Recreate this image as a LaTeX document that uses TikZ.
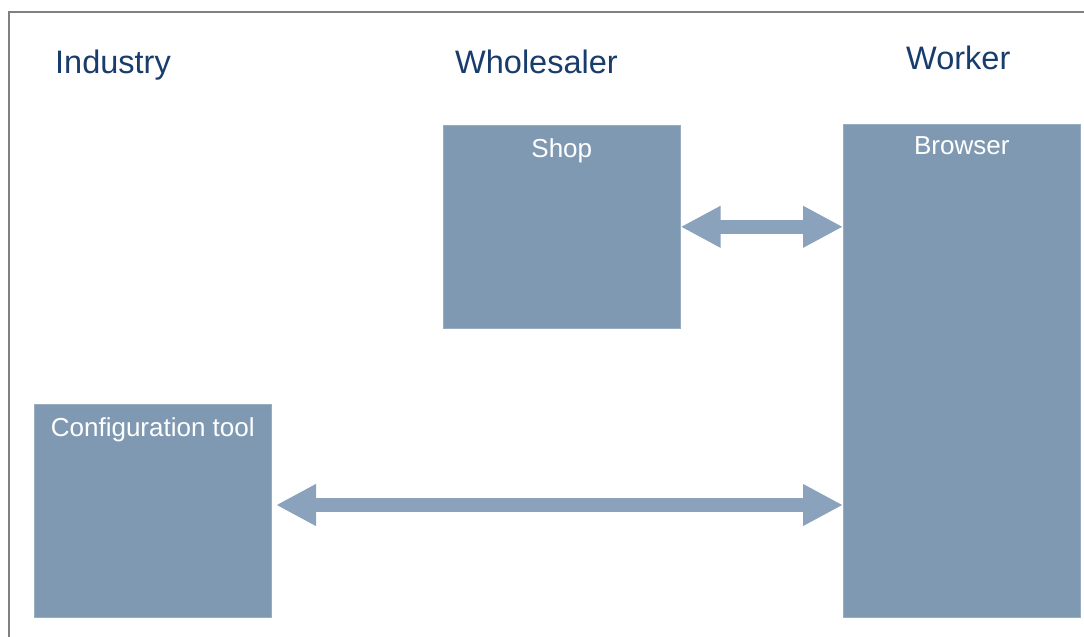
\documentclass[tikz,border=0pt]{standalone}
\usepackage{fontspec}
\setmainfont{Liberation Sans}
\usetikzlibrary{positioning,calc,arrows.meta}
\definecolor{boxblue}{RGB}{127,153,178}
\definecolor{arrowblue}{RGB}{138,162,188}
\definecolor{headblue}{RGB}{24,60,108}
\tikzset{
  box/.style={fill=boxblue,draw=boxblue!80!white,line width=0.6pt,anchor=north west,inner sep=0pt},
  boxtext/.style={text=white,font=\fontsize{26}{31}\selectfont,inner sep=0pt,anchor=base},
  heading/.style={text=headblue,font=\fontsize{32.5}{38}\selectfont,inner sep=0pt,anchor=base west},
  bigarrow/.style={draw=arrowblue,line width=14pt,
    {Triangle[length=40pt,width=39pt]}-{Triangle[length=40pt,width=39pt]}}
}

\begin{document}
\begin{tikzpicture}[x=1pt,y=-1pt]
\useasboundingbox (0,0) rectangle (1084,637);
% frame
\draw[gray,line width=2pt] (9,650) -- (9,12) -- (1095,12);
% headings
\node[heading] (industry) at (55,73) {Industry};
\node[heading] (wholesaler) at (455,73) {Wholesaler};
\node[heading] (worker) at (906,69) {Worker};
% boxes
\node[box,minimum width=237pt,minimum height=203pt] (shop) at (443,125) {};
\node[box,minimum width=237pt,minimum height=493pt] (browser) at (843,124) {};
\node[box,minimum width=237pt,minimum height=213pt] (config) at (34,404) {};
\node[boxtext] (shoplabel) at ([yshift=-32pt]shop.north) {Shop};
\node[boxtext] (browserlabel) at ([yshift=-30pt]browser.north) {Browser};
\node[boxtext] (configlabel) at ([yshift=-32pt]config.north) {Configuration tool};
% connections
\coordinate (c) at (276,505);
\draw[bigarrow] (shop.east) -- (shop.east -| browser.west);
\draw[bigarrow] (c) -- (c -| browser.west);
\end{tikzpicture}
\end{document}
